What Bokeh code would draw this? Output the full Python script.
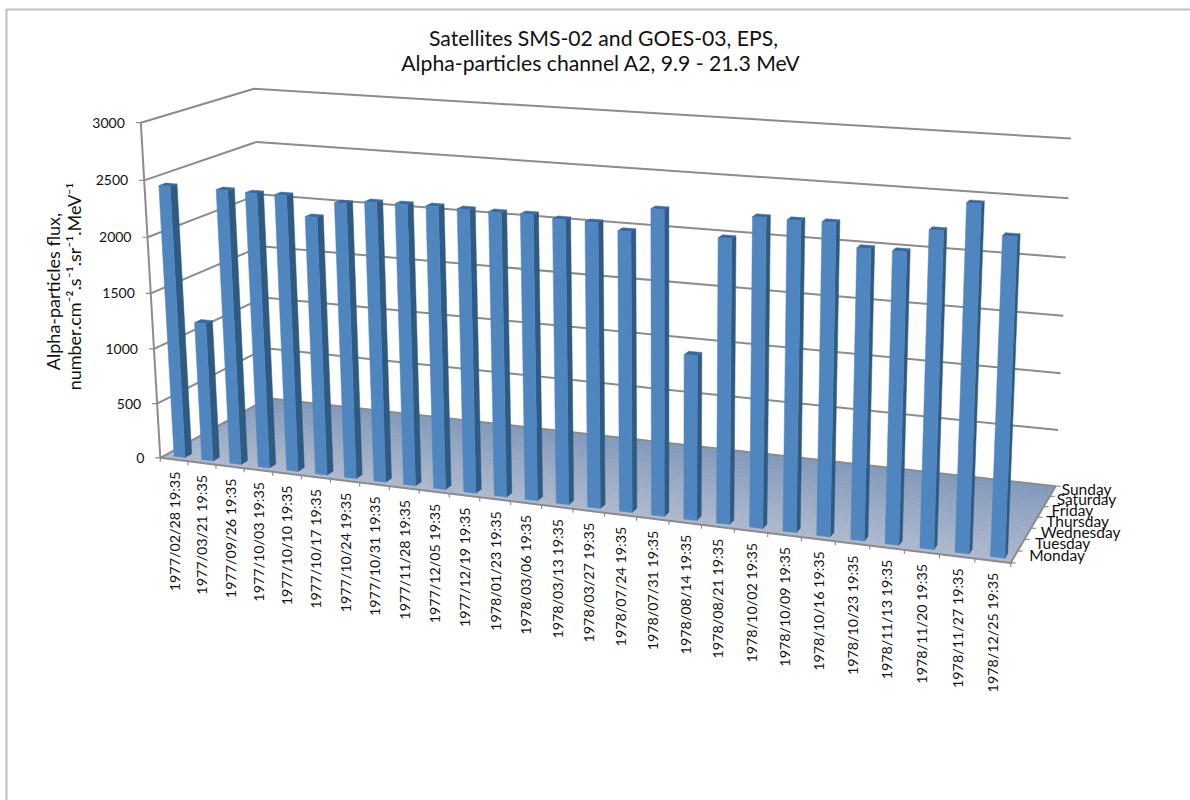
import numpy as np
from bokeh.plotting import figure
from bokeh.models import Range1d
from bokeh.core.properties import value
from bokeh.embed import file_html
from bokeh.resources import INLINE

# ---------- data ----------
dates = ["1977/02/28 19:35","1977/03/21 19:35","1977/09/26 19:35","1977/10/03 19:35","1977/10/10 19:35",
         "1977/10/17 19:35","1977/10/24 19:35","1977/10/31 19:35","1977/11/28 19:35","1977/12/05 19:35",
         "1977/12/19 19:35","1978/01/23 19:35","1978/03/06 19:35","1978/03/13 19:35","1978/03/27 19:35",
         "1978/07/24 19:35","1978/07/31 19:35","1978/08/14 19:35","1978/08/21 19:35","1978/10/02 19:35",
         "1978/10/09 19:35","1978/10/16 19:35","1978/10/23 19:35","1978/11/13 19:35","1978/11/20 19:35",
         "1978/11/27 19:35","1978/12/25 19:35"]
flux = [2445,1251,2449,2442,2445,2276,2416,2445,2448,2451,2446,2442,2446,2425,2421,2369,2569,1393,
        2376,2566,2563,2568,2384,2382,2569,2798,2565]
days = ["Monday","Tuesday","Wednesday","Thursday","Friday","Saturday","Sunday"]
y_ticks = [0,500,1000,1500,2000,2500,3000]
y_max = 3000
title_lines = ["Satellites SMS-02 and GOES-03, EPS,", "Alpha-particles channel A2,  9.9 - 21.3 MeV"]
y_title = ["Alpha-particles flux,", "number.cm\u207b\u00b2.s\u207b\u00b9.sr\u207b\u00b9.MeV\u207b\u00b9"]

# ---------- 3D camera calibrated to the plot box corners ----------
calib = [((0,0,0),(158,458)),((0,1,0),(141,122)),((0,0,1),(270,398)),((0,1,1),(252,88)),((1,0,0),(1010,563)),
         ((1,0,1),(1055,485)),((1,1,1),(1071,138)),((0,5/6,0),(146,180)),((0,5/6,1),(255,142)),
         ((1,5/6,1),(1068,198)),((1,4/6,1),(1065,257)),((0,2/6,0),(152.5,347)),((0,4/6,0),(147,237))]
A, b = [], []
for (X,Y,Z),(u,v) in calib:
    A.append([X,Y,Z,1,0,0,0,0,-u*X,-u*Y,-u*Z]); b.append(u)
    A.append([0,0,0,0,X,Y,Z,1,-v*X,-v*Y,-v*Z]); b.append(v)
M = np.append(np.linalg.lstsq(np.array(A,float),np.array(b,float),rcond=None)[0],1).reshape(3,4)
def P(X,Y,Z):
    r = M @ np.array([X,Y,Z,1.0])
    return float(r[0]/r[2]), float(r[1]/r[2])
def poly(corners):
    pts = [P(*c) for c in corners]
    return [q[0] for q in pts],[q[1] for q in pts]

n, nd = len(dates), len(days)
GRID = "#8c8c8c"
TXT = "#111111"
FONT = value("Lato")

p = figure(width=1190, height=800, x_range=Range1d(0,1190), y_range=Range1d(800,0),
           output_backend="svg", toolbar_location=None, min_border=0, outline_line_color=None,
           background_fill_color="white", border_fill_color="white")
p.margin = (0,0,0,0)
p.xaxis.visible = False; p.yaxis.visible = False; p.grid.visible = False

# chart-area frame
p.line([6,6,1190],[800,9,9], line_color="#bfbfbf", line_width=2)

# walls' gridlines
gx, gy = [], []
for t in y_ticks[1:]:
    a,c = poly([(0,t/y_max,0),(0,t/y_max,1),(1,t/y_max,1)])
    gx.append(a); gy.append(c)
p.multi_line(gx, gy, line_color=GRID, line_width=2)

# floor with front-to-back gradient
c_front, c_back = np.array([0xaf,0xba,0xce]), np.array([0x80,0x98,0xba])
ns = 40
fx, fy, fc = [], [], []
for k in range(ns):
    z0, z1 = k/ns, (k+1)/ns
    a,c = poly([(0,0,z0),(1,0,z0),(1,0,z1),(0,0,z1)])
    col = c_front + (c_back-c_front)*(k+.5)/ns
    fx.append(a); fy.append(c); fc.append("#%02x%02x%02x" % tuple(int(v) for v in col))
p.patches(fx, fy, fill_color=fc, line_color=fc, line_width=0.6)

# axis lines
a,c = poly([(0,0,1),(0,0,0),(1,0,0),(1,0,1)])
p.line(a,c,line_color=GRID,line_width=2)
a,c = poly([(0,0,1),(1,0,1)])
p.line(a,c,line_color=GRID,line_width=2)
a,c = poly([(0,0,0),(0,1,0)])
p.line(a,c,line_color=GRID,line_width=2)

# ticks and tick labels
tx, ty = [], []
for t in y_ticks:
    u,v = P(0,t/y_max,0)
    tx.append([u-5,u]); ty.append([v,v])
for i in range(n+1):
    u,v = P(i/n,0,0)
    tx.append([u,u]); ty.append([v,v+4])
for k in range(nd+1):
    u,v = P(1,0,k/nd)
    tx.append([u,u+5]); ty.append([v,v])
p.multi_line(tx,ty,line_color=GRID,line_width=1.2)

lx = [P(0,t/y_max,0) for t in y_ticks]
p.text([q[0]-16 for q in lx],[q[1] for q in lx],text=[str(t) for t in y_ticks],text_align="right",
       text_baseline="middle",text_font=FONT,text_font_size="14px",text_color=TXT)

cx = [P((i+.5)/n,0,0) for i in range(n)]
p.text([q[0] for q in cx],[q[1]+12 for q in cx],text=dates,angle=np.pi/2,text_align="right",
       text_baseline="middle",text_font=FONT,text_font_size="14.3px",text_color=TXT)

dp = [P(1,0,(k+.5)/nd) for k in range(nd)]
p.text([q[0]+15-k*1.0 for k,q in enumerate(dp)],[q[1]-2 for q in dp],text=days,text_align="left",
       text_baseline="middle",text_font=FONT,text_font_size="15.5px",text_color=TXT)

# bars in the front row (Monday)
d0, d1 = .3/nd, .7/nd
front_x, front_y, side_x, side_y, top_x, top_y = [],[],[],[],[],[]
for i,val in enumerate(flux):
    x0, x1 = (i+.32+.06*i/n)/n, (i+.72+.06*i/n)/n
    h = val/y_max
    a,c = poly([(x0,0,d0),(x1,0,d0),(x1,h,d0),(x0,h,d0)]); front_x.append(a); front_y.append(c)
    a,c = poly([(x1,0,d0),(x1,0,d1),(x1,h,d1),(x1,h,d0)]); side_x.append(a); side_y.append(c)
    a,c = poly([(x0,h,d0),(x1,h,d0),(x1,h,d1),(x0,h,d1)]); top_x.append(a); top_y.append(c)
p.patches(side_x,side_y,fill_color="#2f5a82",line_color="#2f5a82",line_width=0.5)
p.patches(top_x,top_y,fill_color="#38699c",line_color="#38699c",line_width=0.5)
p.patches(front_x,front_y,fill_color="#4f86bf",line_color="#4f86bf",line_width=0.5)

# title and y axis title
p.text([603,603],[37,62],text=title_lines,text_align="center",text_baseline="middle",
       text_font=FONT,text_font_size="21.2px",text_color=TXT)
p.text([52,73],[291,286],text=y_title,angle=np.pi/2,text_align="center",text_baseline="middle",
       text_font=FONT,text_font_size="18px",text_color=TXT)

open("out.html","w").write(file_html(p, INLINE))
